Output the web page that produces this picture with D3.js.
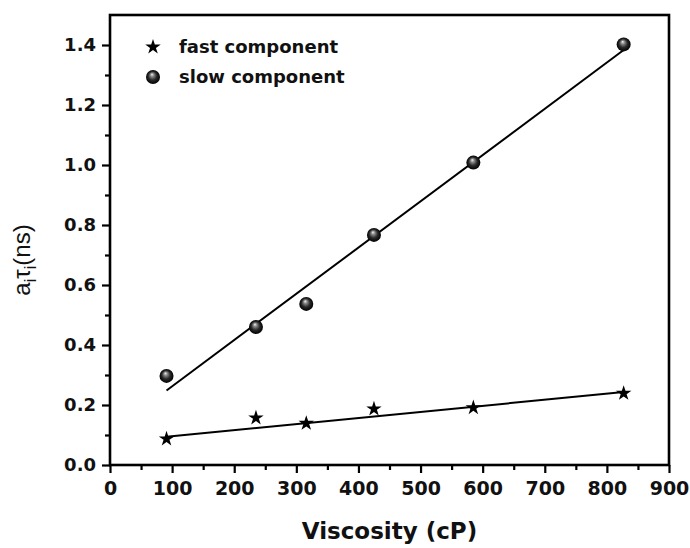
<!DOCTYPE html>
<html>
<head>
<meta charset="utf-8">
<script src="https://cdn.jsdelivr.net/npm/d3@7"></script>
<style>
  body { margin: 0; background: #fff; }
  svg { display: block; }
</style>
</head>
<body>
<svg width="690" height="548"></svg>
<script>
// ---- dados
const viscosity = [91, 235, 316, 425, 585, 827];
const slowTau = [0.297, 0.46, 0.537, 0.767, 1.008, 1.402];
const fastTau = [0.087, 0.157, 0.139, 0.187, 0.191, 0.239];
// ajuste linear: [intercepto, inclinação]
const slowFit = [0.108, 0.001542];
const fastFit = [0.076, 0.000202];
const xTicks = [0, 100, 200, 300, 400, 500, 600, 700, 800, 900];
const yTicks = [0.0, 0.2, 0.4, 0.6, 0.8, 1.0, 1.2, 1.4];
const legendLabels = ['fast component', 'slow component'];

const svg = d3.select('svg');
const margens = { left: 110, right: 21, top: 15, bottom: 83 };
const width = +svg.attr('width');
const height = +svg.attr('height');
const innerWidth = width - margens.left - margens.right;
const innerHeight = height - margens.top - margens.bottom;

const tickFont = "'DejaVu Sans', sans-serif";

// gradiente da esfera
const defs = svg.append('defs');
const grad = defs.append('radialGradient')
  .attr('id', 'esfera')
  .attr('cx', '0.5').attr('cy', '0.5').attr('r', '0.5')
  .attr('fx', '0.42').attr('fy', '0.3');
grad.append('stop').attr('offset', '0%').attr('stop-color', '#f4f4f4');
grad.append('stop').attr('offset', '25%').attr('stop-color', '#8a8a8a');
grad.append('stop').attr('offset', '60%').attr('stop-color', '#2a2a2a');
grad.append('stop').attr('offset', '100%').attr('stop-color', '#000');

// ---- escalas
const x = d3.scaleLinear().domain([0, 900]).range([0, innerWidth]);
const y = d3.scaleLinear().domain([0, 1.5]).range([innerHeight, 0]);

const g = svg.append('g')
  .attr('transform', `translate(${margens.left}, ${margens.top})`);

// ---- eixos (minor ticks primeiro)
g.append('g')
  .attr('transform', `translate(0, ${innerHeight})`)
  .call(d3.axisBottom(x).tickValues(d3.range(50, 900, 100)).tickSize(5).tickFormat(''))
  .call(a => a.select('.domain').remove())
  .selectAll('line').attr('stroke-width', 2.2);

g.append('g')
  .call(d3.axisLeft(y).tickValues(d3.range(0.1, 1.5, 0.2)).tickSize(5).tickFormat(''))
  .call(a => a.select('.domain').remove())
  .selectAll('line').attr('stroke-width', 2.2);

const eixoX = g.append('g')
  .attr('transform', `translate(0, ${innerHeight})`)
  .call(d3.axisBottom(x).tickValues(xTicks).tickSize(8).tickPadding(9).tickFormat(d3.format('d')));
eixoX.select('.domain').remove();
eixoX.selectAll('line').attr('stroke-width', 2.2);
eixoX.selectAll('text')
  .style('font-family', tickFont).style('font-weight', 'bold').style('font-size', '19px')
  .attr('fill', '#111');

const eixoY = g.append('g')
  .call(d3.axisLeft(y).tickValues(yTicks).tickSize(8).tickPadding(6).tickFormat(d3.format('.1f')));
eixoY.select('.domain').remove();
eixoY.selectAll('line').attr('stroke-width', 2.2);
eixoY.selectAll('text')
  .style('font-family', tickFont).style('font-weight', 'bold').style('font-size', '18px')
  .attr('fill', '#111');

// moldura
g.append('rect')
  .attr('x', 0).attr('y', 0)
  .attr('width', innerWidth).attr('height', innerHeight)
  .attr('fill', 'none').attr('stroke', '#000').attr('stroke-width', 2.6);

// ---- rótulos
svg.append('text')
  .attr('x', margens.left + innerWidth / 2)
  .attr('y', 539)
  .attr('text-anchor', 'middle')
  .style('font-family', tickFont).style('font-weight', 'bold').style('font-size', '23px')
  .attr('fill', '#111')
  .text('Viscosity (cP)');

const rotY = svg.append('text')
  .attr('transform', 'translate(30, 260) rotate(-90)')
  .attr('text-anchor', 'middle')
  .style('font-family', "'Liberation Sans', Arial, sans-serif").style('font-size', '24px')
  .attr('fill', '#111');
rotY.append('tspan').text('a');
rotY.append('tspan').attr('dy', 6).style('font-size', '16px').text('i');
rotY.append('tspan').attr('dy', -6).text('τ');
rotY.append('tspan').attr('dy', 6).style('font-size', '16px').text('i');
rotY.append('tspan').attr('dy', -6).text('(ns)');

// ---- linhas de ajuste
const xMin = d3.min(viscosity);
const xMax = d3.max(viscosity);
const linha = d3.line().x(d => x(d[0])).y(d => y(d[1]));

[slowFit, fastFit].forEach(f => {
  g.append('path')
    .datum([[xMin, f[0] + f[1] * xMin], [xMax, f[0] + f[1] * xMax]])
    .attr('d', linha)
    .attr('fill', 'none')
    .attr('stroke', '#000')
    .attr('stroke-width', 2);
});

// ---- pontos
const estrela = d3.symbol().type(d3.symbolStar).size(74);

g.selectAll('.lento')
  .data(viscosity)
  .enter()
  .append('circle')
  .attr('class', 'lento')
  .attr('cx', d => x(d))
  .attr('cy', (d, i) => y(slowTau[i]))
  .attr('r', 7)
  .attr('fill', 'url(#esfera)');

g.selectAll('.rapido')
  .data(viscosity)
  .enter()
  .append('path')
  .attr('class', 'rapido')
  .attr('d', estrela)
  .attr('transform', (d, i) => `translate(${x(d)}, ${y(fastTau[i])})`)
  .attr('fill', '#000');

// ---- legenda
const leg = svg.append('g').attr('transform', 'translate(153, 47)');
leg.append('path').attr('d', estrela).attr('fill', '#000');
leg.append('circle').attr('cy', 30).attr('r', 7).attr('fill', 'url(#esfera)');
leg.selectAll('.leg-texto')
  .data(legendLabels)
  .enter()
  .append('text')
  .attr('class', 'leg-texto')
  .attr('x', 26)
  .attr('y', (d, i) => 6 + i * 30)
  .style('font-family', tickFont).style('font-weight', 'bold').style('font-size', '18px')
  .attr('fill', '#111')
  .text(d => d);
</script>
</body>
</html>
